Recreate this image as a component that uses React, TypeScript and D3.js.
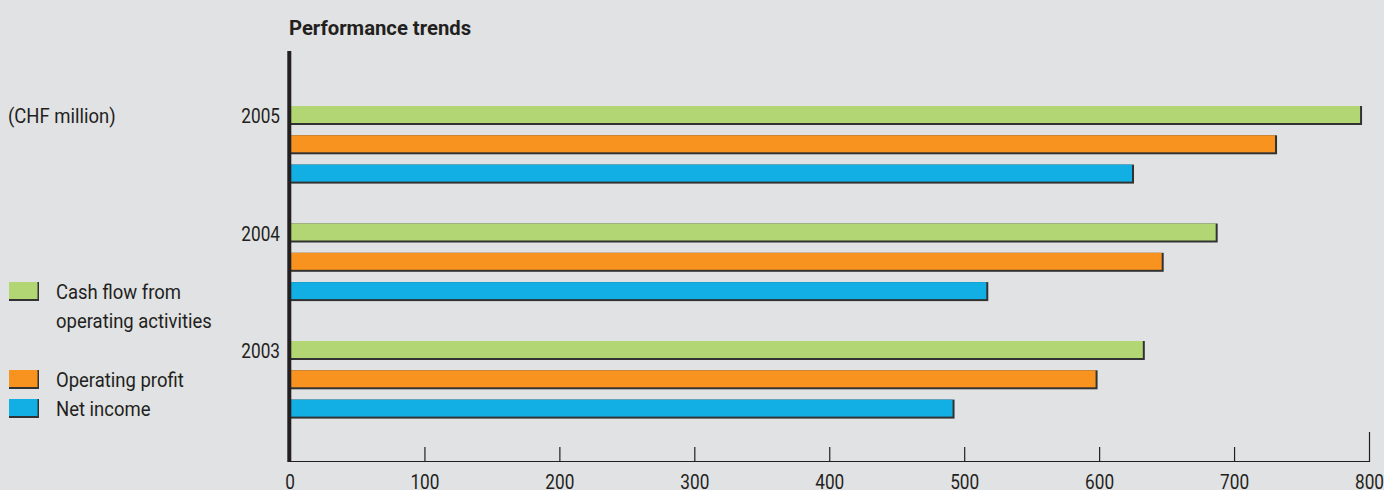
import React from "react";
import * as d3 from "d3";

const years = ["2005", "2004", "2003"];
const seriesNames = ["Cash flow from operating activities", "Operating profit", "Net income"];
const cashFlow = [793, 686, 632];
const operatingProfit = [730, 646, 597];
const netIncome = [624, 516, 491];
const xTicks = [0, 100, 200, 300, 400, 500, 600, 700, 800];
const colors = ["#b3d675", "#f7931e", "#12afe4"];

const W = 1384;
const H = 490;
const FONT = "Roboto, 'Liberation Sans', sans-serif";
const INK = "#231f20";
const SHADOW = "#333233";
const SX_NUM = 0.82;
const SX_WORD = 0.88;

function T(props: {
  x: number;
  y: number;
  anchor?: "start" | "middle" | "end";
  size?: number;
  bold?: boolean;
  sx?: number;
  children: React.ReactNode;
}) {
  const { x, y, anchor = "start", size = 21, bold = false, sx = SX_WORD, children } = props;
  return (
    <text
      transform={`translate(${x},${y}) scale(${sx},1)`}
      textAnchor={anchor}
      fontSize={size}
      fontWeight={bold ? 700 : 400}
      fill={INK}
    >
      {children}
    </text>
  );
}

export default function App() {
  const x = d3.scaleLinear().domain([0, 800]).range([290, 1369.5]);
  const yOuter = d3.scaleBand<string>().domain(years).range([106, 106 + 3 * 117.5]).padding(0);
  const innerStep = 29.3;
  const barH = 17;
  const yInner = d3
    .scaleBand<string>()
    .domain(seriesNames)
    .range([0, innerStep * (3 - 0.35)])
    .paddingInner(0.35)
    .paddingOuter(0);
  const values = [cashFlow, operatingProfit, netIncome];

  const axisTop = 51;
  const axisBottom = 462;

  return (
    <svg
      width={W}
      height={H}
      style={{ position: "absolute", left: 0, top: 0, display: "block" }}
      fontFamily={FONT}
    >
      <rect x={0} y={0} width={W} height={H} fill="#e1e2e4" />
      <T x={289} y={35} size={19.5} bold sx={1.04}>
        Performance trends
      </T>
      <T x={8} y={123}>(CHF million)</T>

      {/* bars */}
      {years.map((yr, yi) =>
        seriesNames.map((s, si) => {
          const y0 = (yOuter(yr) as number) + (yInner(s) as number);
          const x0 = x(0);
          const x1 = x(values[si][yi]);
          return (
            <g key={yr + s}>
              <rect x={x0} y={y0} width={x1 - x0 + 2} height={barH + 2} fill={SHADOW} />
              <rect x={x0} y={y0} width={x1 - x0} height={barH} fill={colors[si]} />
            </g>
          );
        })
      )}

      {/* year labels */}
      {years.map((yr) => (
        <T key={yr} x={280} y={(yOuter(yr) as number) + 17} anchor="end" sx={SX_NUM}>
          {yr}
        </T>
      ))}

      {/* x axis */}
      <line x1={x(0)} x2={x(800)} y1={axisBottom - 0.5} y2={axisBottom - 0.5} stroke={INK} strokeWidth={1.2} />
      {xTicks.map((t) => (
        <g key={t}>
          {t > 0 && (
            <line
              x1={x(t)}
              x2={x(t)}
              y1={t === 800 ? 432 : 447}
              y2={axisBottom}
              stroke={INK}
              strokeWidth={1.2}
            />
          )}
          <T x={x(t)} y={489} anchor="middle" sx={SX_NUM}>
            {t}
          </T>
        </g>
      ))}
      {/* y axis */}
      <line x1={289.3} x2={289.3} y1={axisTop} y2={axisBottom} stroke={INK} strokeWidth={4} />

      {/* legend */}
      {[
        { y: 282, lines: ["Cash flow from", "operating activities"] },
        { y: 370, lines: ["Operating profit"] },
        { y: 399, lines: ["Net income"] },
      ].map((l, i) => (
        <g key={i}>
          <rect x={9} y={l.y} width={30} height={19} fill={SHADOW} />
          <rect x={9} y={l.y} width={28.5} height={17} fill={colors[i]} />
          {l.lines.map((ln, j) => (
            <T key={j} x={56} y={l.y + 17 + j * 29}>
              {ln}
            </T>
          ))}
        </g>
      ))}
    </svg>
  );
}
